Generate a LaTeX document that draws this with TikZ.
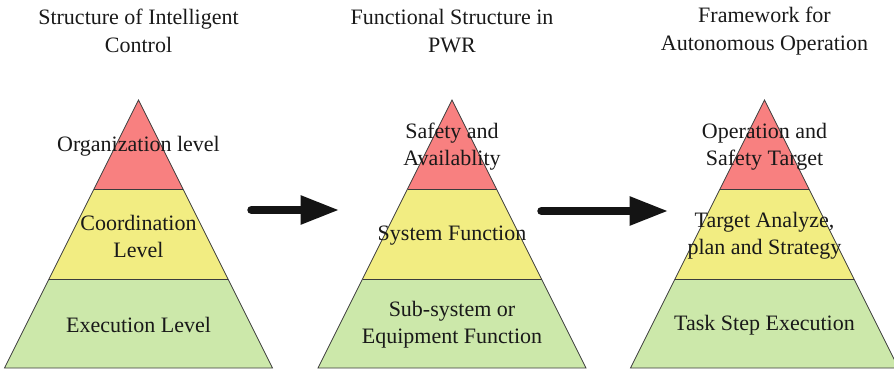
\documentclass[tikz,border=0pt]{standalone}
\usepackage{fontspec}
\setmainfont{Liberation Serif}
\usetikzlibrary{arrows.meta}
\definecolor{tierred}{RGB}{248,128,128}
\definecolor{tieryellow}{RGB}{242,237,130}
\definecolor{tiergreen}{RGB}{204,232,170}
\definecolor{edgegray}{RGB}{60,60,60}
\tikzset{
  tier/.style={draw=edgegray, line width=0.8pt, line join=miter},
  lbl/.style={align=center, inner sep=0pt, font=\fontsize{22}{27}\selectfont, text=black!90},
  ttl/.style={align=center, inner sep=0pt, font=\fontsize{22}{28}\selectfont, text=black!90},
  bigarrow/.style={line width=8.5pt, line cap=round, black!92,
    -{Triangle[length=39pt,width=27pt]}}
}
\begin{document}
\begin{tikzpicture}[x=1pt,y=-1pt]
\useasboundingbox (0,0) rectangle (894,369);
% three pyramids: apex at y=100, base at y=368, half width = (y-100)/2
\foreach \cx/\nm in {138.5/A,452/B,764.5/C}{
  \fill[tierred]    (\cx,100) -- (\cx+44.5,189) -- (\cx-44.5,189) -- cycle;
  \fill[tieryellow] (\cx-44.5,189) -- (\cx+44.5,189) -- (\cx+89.5,279) -- (\cx-89.5,279) -- cycle;
  \fill[tiergreen]  (\cx-89.5,279) -- (\cx+89.5,279) -- (\cx+134,368) -- (\cx-134,368) -- cycle;
  \draw[tier] (\cx,100) -- (\cx+134,368) -- (\cx-134,368) -- cycle;
  \draw[tier] (\cx-44.5,189) -- (\cx+44.5,189);
  \draw[tier] (\cx-89.5,279) -- (\cx+89.5,279);
  \coordinate (\nm top) at (\cx,146.5);
  \coordinate (\nm mid) at (\cx,236);
  \coordinate (\nm low) at (\cx,325);
  \coordinate (\nm head) at (\cx,31);
}
% titles
\node[ttl] (t1) at (Ahead) {Structure of Intelligent\\Control};
\node[ttl] (t2) at (Bhead) {Functional Structure in\\PWR};
\node[ttl] (t3) at (Chead) {Framework for\\Autonomous Operation};
% tier labels
\node[lbl] (a1) at (Atop) {Organization level};
\node[lbl] (a2) at (Amid) {Coordination\\Level};
\node[lbl] (a3) at (Alow) {Execution Level};
\node[lbl] (b1) at (Btop) {Safety and\\Availablity};
\node[lbl] (b2) at (Bmid) {System Function};
\node[lbl] (b3) at (Blow) {Sub-system or\\Equipment Function};
\node[lbl] (c1) at (Ctop) {Operation and\\Safety Target};
\node[lbl] (c2) at (Cmid) {Target Analyze,\\plan and Strategy};
\node[lbl] (c3) at (Clow) {Task Step Execution};
% arrows between the pyramids
\coordinate (p1s) at (251.5,210);
\coordinate (p1e) at (339.5,210);
\coordinate (p2s) at (541.5,211);
\coordinate (p2e) at (668.5,211);
\draw[bigarrow] (p1s) -- (p1e);
\draw[bigarrow] (p2s) -- (p2e);
\end{tikzpicture}
\end{document}
